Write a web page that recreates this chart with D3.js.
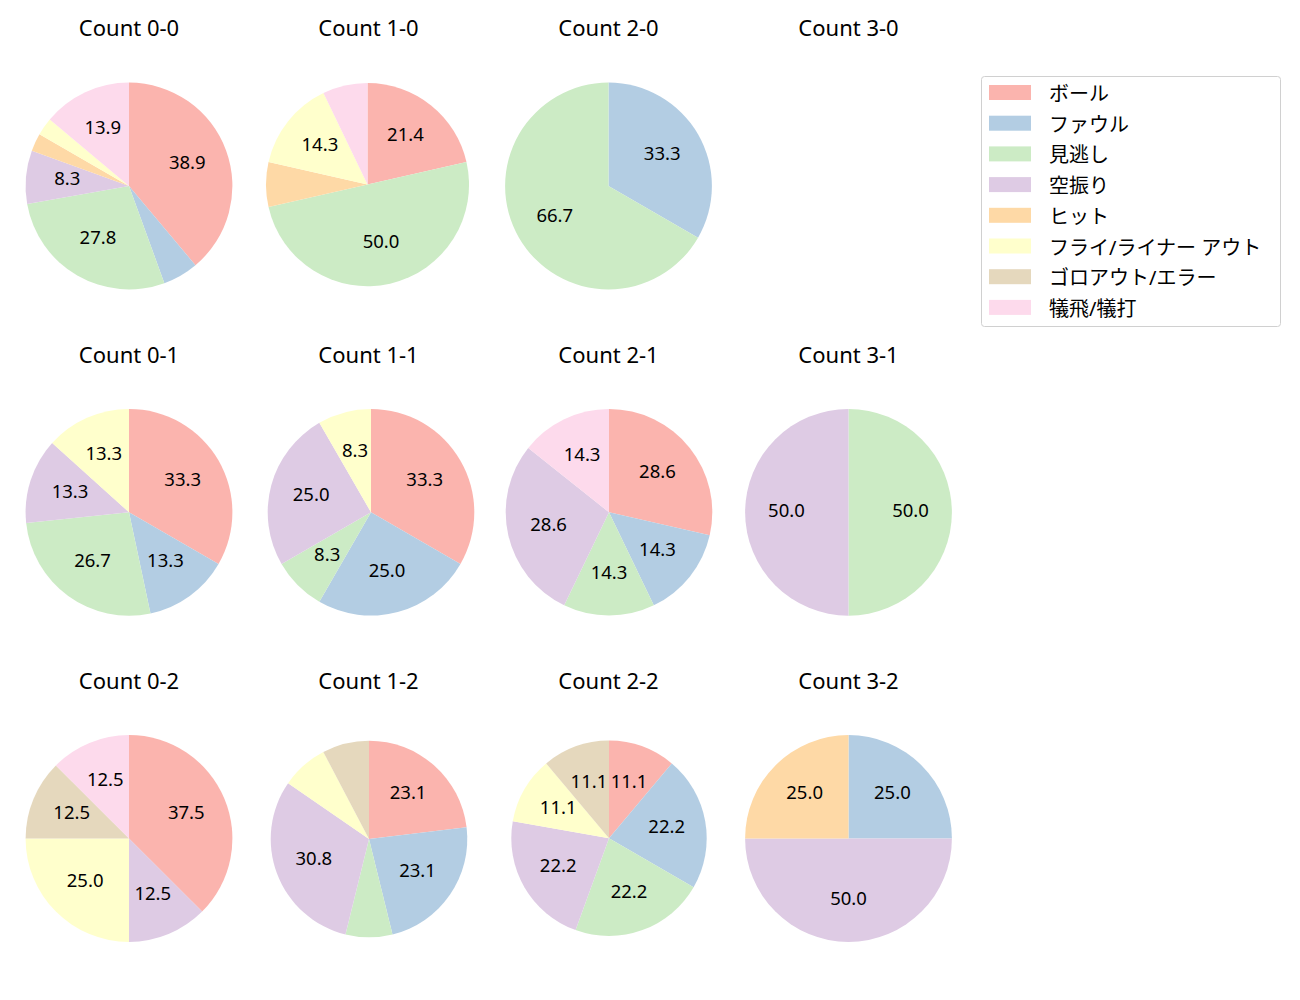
<!DOCTYPE html>
<html><head><meta charset="utf-8">
<script src="https://cdn.jsdelivr.net/npm/d3@7"></script>
<style>
html,body{margin:0;padding:0;background:#fff;}
text{font-family:"Noto Sans","Noto Sans CJK JP",sans-serif;}
</style></head>
<body>
<svg id="chart" width="1300" height="1000"></svg>
<script>
// ---- data ----
const categories = ["ボール","ファウル","見逃し","空振り","ヒット","フライ/ライナー アウト","ゴロアウト/エラー","犠飛/犠打"];
const colors = ["#fbb4ae","#b3cde3","#ccebc5","#decbe4","#fed9a6","#ffffcc","#e5d8bd","#fddaec"];
const countTitles = ["Count 0-0","Count 1-0","Count 2-0","Count 3-0",
                     "Count 0-1","Count 1-1","Count 2-1","Count 3-1",
                     "Count 0-2","Count 1-2","Count 2-2","Count 3-2"];
const c00 = [14,2,10,3,1,1,0,5];
const c10 = [3,0,7,0,1,2,0,1];
const c20 = [0,1,2,0,0,0,0,0];
const c30 = [0,0,0,0,0,0,0,0];
const c01 = [5,2,4,2,0,2,0,0];
const c11 = [4,3,1,3,0,1,0,0];
const c21 = [2,1,1,2,0,0,0,1];
const c31 = [0,0,1,1,0,0,0,0];
const c02 = [3,0,0,1,0,2,1,1];
const c12 = [3,3,1,4,0,1,1,0];
const c22 = [1,2,2,2,0,1,1,0];
const c32 = [0,1,0,2,1,0,0,0];
const countValues = [c00,c10,c20,c30,c01,c11,c21,c31,c02,c12,c22,c32];

// ---- layout ----
const colX = [129, 368.5, 608.5, 848.5];
const rowY = [186, 512.3, 838.5];
const titleBase = [36, 362.5, 689];
const baseR = 103.4;
const panelAdjust = {1:{dx:-1,dy:-1.5,r:101.5}, 5:{dx:2.5,dy:0,r:103.3}, 6:{dx:0.5,dy:0,r:103.3},
                     9:{dx:0.5,dy:0.5,r:98.3}, 10:{dx:0.5,dy:-0.2,r:97.7}};

const svg = d3.select("#chart");
const color = d3.scaleOrdinal().domain(categories).range(colors);
const pie = d3.pie().sort(null).value(d => d.v).startAngle(0).endAngle(2*Math.PI);

countTitles.forEach((title, i) => {
  const col = i % 4, row = Math.floor(i / 4);
  const adj = panelAdjust[i] || {dx:0,dy:0,r:baseR};
  const cx = colX[col] + adj.dx, cy = rowY[row] + adj.dy, r = adj.r;
  svg.append("text").attr("x", colX[col]).attr("y", titleBase[row])
    .attr("text-anchor","middle")
    .attr("font-size", 22).attr("fill","#000").text(title);
  const vals = countValues[i];
  const total = d3.sum(vals);
  if (total === 0) return;
  const data = categories.map((c, k) => ({c, v: vals[k]}));
  const arcs = pie(data).filter(d => d.data.v > 0);
  const g = svg.append("g").attr("transform", `translate(${cx},${cy})`);
  const arc = d3.arc().innerRadius(0).outerRadius(r);
  g.selectAll("path").data(arcs).join("path")
    .attr("d", arc).attr("fill", d => color(d.data.c));
  const labelArc = d3.arc().innerRadius(r*0.6).outerRadius(r*0.6);
  g.selectAll("text").data(arcs.filter(d => d.data.v/total*100 >= 8)).join("text")
    .attr("transform", d => { const p = labelArc.centroid(d); return `translate(${p[0]},${p[1] + 4.6})`; })
    .attr("text-anchor","middle")
    .attr("font-size", 18.5).attr("fill","#000")
    .text(d => (d.data.v/total*100).toFixed(1));
});

// ---- legend ----
const lg = svg.append("g");
lg.append("rect").attr("x",981.5).attr("y",76.5).attr("width",299).attr("height",250)
  .attr("rx",3).attr("fill","#fff").attr("stroke","#d0d0d0").attr("stroke-width",1);
categories.forEach((c, k) => {
  const y = 92.5 + k*30.7;
  lg.append("rect").attr("x",989).attr("y",y-7.5).attr("width",42).attr("height",15).attr("fill",color(c));
  lg.append("text").attr("x",1049).attr("y",y + 1).attr("dominant-baseline","central")
    .attr("font-family","Noto Sans CJK JP")
    .attr("font-size",20).attr("fill","#000").text(c);
});
</script>
</body></html>
